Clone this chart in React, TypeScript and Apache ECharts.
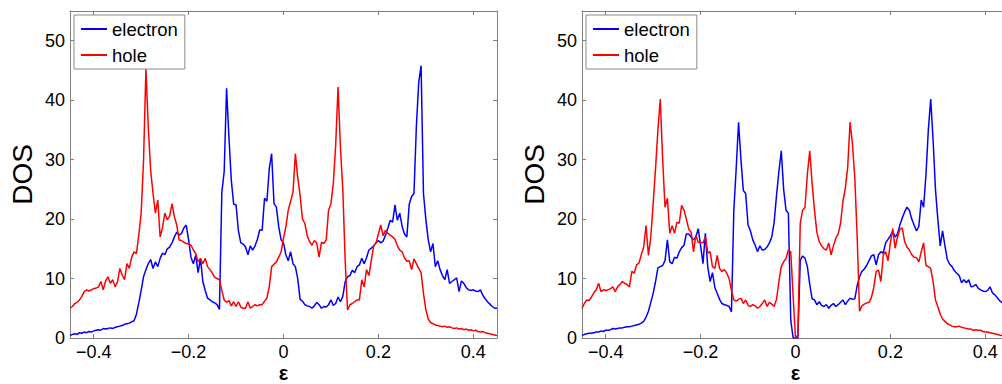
import React, { useEffect, useRef } from "react";
import * as echarts from "echarts";

// energy grid (step 0.005 from -0.45 to 0.45)
const EPS: number[] = Array.from({ length: 181 }, (_, i) => +(-0.45 + 0.005 * i).toFixed(3));

const X_TICKS = [-0.4, -0.2, 0, 0.2, 0.4];
const Y_TICKS = [0, 10, 20, 30, 40, 50];
const SERIES_NAMES = ["electron", "hole"];

// left panel
const ELEC_A = [
  0.4, 0.6, 0.7, 0.6, 0.9, 0.8, 1.0, 0.9, 1.1, 1.0,
  1.2, 1.3, 1.4, 1.3, 1.6, 1.5, 1.6, 1.7, 1.6, 1.8,
  1.9, 2.0, 2.1, 2.3, 2.4, 2.5, 2.7, 2.9, 4.0, 5.9,
  8.0, 10.3, 11.5, 12.5, 13.2, 11.7, 12.8, 12.0, 13.4, 14.3,
  14.0, 15.0, 15.3, 16.0, 17.0, 17.8, 17.3, 17.6, 18.5, 19.0,
  16.5, 13.6, 12.5, 13.9, 11.0, 13.4, 9.5, 8.0, 6.7, 6.4,
  6.1, 5.9, 5.6, 4.8, 24.5, 28.0, 42.0, 33.8, 26.5, 22.5,
  22.4, 18.0, 16.0, 15.8, 15.3, 14.0, 15.5, 14.8, 15.5, 16.6,
  18.2, 18.1, 23.5, 23.0, 28.5, 31.0, 22.6, 22.0, 18.7, 16.5,
  16.0, 14.0, 13.0, 14.5, 12.5, 12.0, 10.0, 6.5, 6.2, 5.6,
  5.4, 5.3, 5.0, 5.4, 6.0, 5.6, 5.0, 5.3, 5.2, 5.6,
  6.4, 5.5, 5.8, 6.9, 6.1, 7.0, 9.5, 10.3, 10.5, 11.4,
  11.0, 12.0, 12.3, 13.4, 12.5, 13.5, 14.8, 15.1, 15.5, 16.0,
  16.4, 16.0, 16.3, 17.3, 18.5, 19.8, 19.5, 22.4, 19.8, 21.0,
  18.8, 17.5, 17.0, 22.5, 23.8, 24.3, 35.5, 43.0, 45.8, 24.3,
  20.0, 16.6, 14.5, 15.9, 12.0, 13.0, 11.5, 10.5, 9.8, 11.5,
  9.2, 9.5, 9.8, 10.1, 7.8, 9.6, 9.2, 8.5, 8.1, 8.0,
  8.1, 7.9, 7.8, 8.1, 7.2, 6.6, 6.1, 5.7, 5.3, 5.0,
  5.0,
];

const HOLE_A = [
  5.0, 5.3, 5.8, 6.0, 6.4, 7.0, 7.8, 8.1, 7.9, 8.1,
  8.3, 8.4, 8.6, 9.5, 8.1, 9.6, 10.3, 9.2, 9.8, 8.6,
  9.4, 11.7, 10.6, 9.8, 12.5, 11.7, 13.6, 14.5, 14.2, 17.3,
  21.0, 29.9, 45.2, 35.5, 28.2, 24.3, 21.0, 23.2, 17.0, 18.6,
  21.0, 19.9, 20.5, 22.6, 20.4, 19.0, 16.5, 16.4, 16.1, 15.9,
  15.8, 15.6, 14.8, 14.2, 12.8, 13.4, 12.5, 13.4, 12.0, 11.5,
  10.9, 10.2, 10.0, 9.8, 8.0, 6.4, 6.0, 6.3, 5.4, 6.1,
  5.3, 6.1, 5.2, 5.0, 5.0, 6.1, 5.0, 5.3, 5.6, 5.4,
  5.6, 5.6, 6.2, 6.7, 8.6, 12.0, 12.4, 12.8, 13.6, 14.5,
  16.8, 18.7, 21.5, 23.0, 24.5, 31.0, 27.0, 24.0, 20.0, 19.3,
  17.2, 16.2, 15.6, 16.4, 16.0, 13.6, 16.1, 15.9, 16.5, 21.5,
  22.6, 26.0, 32.5, 42.2, 32.0, 25.0, 13.0, 4.7, 5.6, 5.8,
  6.1, 6.4, 6.4, 9.8, 8.6, 11.5, 10.5, 13.0, 15.5, 16.0,
  17.5, 19.0, 17.2, 18.1, 17.6, 17.3, 17.0, 16.6, 15.5, 14.8,
  14.5, 13.5, 12.9, 13.0, 11.5, 13.3, 12.5, 11.7, 11.0, 7.5,
  4.8, 3.2, 2.6, 2.4, 2.2, 2.1, 2.0, 1.9, 2.0, 1.8,
  1.9, 1.7, 1.6, 1.7, 1.5, 1.6, 1.4, 1.5, 1.3, 1.4,
  1.2, 1.3, 1.1, 1.0, 1.1, 0.9, 0.8, 0.7, 0.6, 0.5,
  0.4,
];

// right panel
const ELEC_B = [
  0.4, 0.6, 0.7, 0.8, 0.8, 0.9, 1.0, 1.0, 1.2, 1.1,
  1.3, 1.3, 1.4, 1.6, 1.5, 1.6, 1.7, 1.7, 1.8, 1.9,
  1.9, 2.0, 2.1, 2.2, 2.3, 2.5, 2.8, 3.5, 4.5, 6.0,
  7.5, 9.5, 11.8, 12.0, 12.2, 13.0, 16.5, 12.8, 12.5, 13.6,
  13.4, 14.5, 15.2, 15.6, 17.5, 17.5, 17.0, 16.5, 17.0, 18.4,
  15.5, 12.5, 17.6, 12.0, 9.5, 11.0, 8.5, 7.5, 6.5, 5.8,
  5.6, 5.5, 5.3, 4.4, 21.5, 28.5, 36.3, 30.0, 24.8, 24.3,
  19.0, 18.0, 16.5, 15.6, 14.5, 15.5, 14.8, 14.9, 15.3, 16.0,
  17.0, 19.5, 24.0, 28.0, 31.5, 25.0, 21.5, 21.0, 3.0, 0.0,
  0.0, 0.0, 13.0, 13.8, 13.4, 12.0, 9.0, 6.6, 6.4, 5.6,
  6.1, 5.5, 5.3, 5.6, 5.0, 5.5, 5.8, 5.3, 5.6, 6.0,
  6.4, 5.6, 6.2, 6.7, 6.5, 6.6, 8.8, 10.3, 11.2, 11.6,
  12.2, 13.0, 13.8, 14.0, 12.3, 14.0, 14.5, 14.3, 16.0, 16.6,
  17.2, 17.9, 17.0, 17.5, 19.0, 20.2, 21.2, 22.0, 21.5, 20.0,
  19.0, 18.0, 18.8, 23.2, 22.0, 27.5, 35.0, 40.2, 33.3, 25.0,
  20.0, 15.5, 18.0, 15.5, 13.2, 12.4, 12.0, 11.3, 10.9, 10.5,
  9.3, 9.8, 9.3, 9.8, 8.6, 8.7, 9.0, 8.4, 8.1, 7.9,
  7.8, 8.0, 8.6, 7.6, 7.3, 6.8, 6.3, 6.0, 5.7, 5.5,
  5.3,
];

const HOLE_B = [
  5.0, 5.8, 6.4, 6.3, 6.9, 7.6, 8.1, 9.2, 7.8, 8.1,
  8.0, 8.1, 8.3, 8.6, 7.8, 8.6, 9.0, 9.5, 9.2, 9.0,
  8.6, 11.2, 10.9, 12.3, 12.6, 14.0, 15.3, 18.9, 13.9, 17.0,
  22.6, 28.5, 35.0, 40.2, 30.0, 22.0, 23.5, 17.6, 18.9, 17.6,
  19.5, 19.3, 22.3, 21.5, 20.0, 18.3, 17.8, 14.5, 17.3, 16.1,
  16.1, 16.0, 17.0, 14.3, 14.5, 12.0, 11.7, 13.9, 11.7, 11.2,
  11.5, 10.9, 10.0, 8.0, 6.4, 6.2, 6.5, 6.7, 5.8, 6.4,
  5.5, 5.3, 5.6, 5.4, 5.0, 5.3, 5.8, 6.4, 5.3, 6.0,
  5.7, 5.3, 6.5, 9.5, 12.0, 12.8, 13.4, 14.8, 14.5, 7.0,
  0.0, 0.5, 19.3, 21.5, 22.0, 27.5, 31.5, 26.0, 21.5, 17.8,
  16.2, 15.5, 15.0, 14.8, 16.0, 14.0, 15.5, 16.8, 17.5, 19.3,
  23.0, 25.2, 28.7, 36.3, 32.7, 27.0, 17.0, 4.5, 5.4, 5.7,
  5.9, 6.0, 6.8, 8.5, 11.2, 11.4, 9.5, 14.0, 14.5, 13.0,
  16.0, 18.4, 15.1, 17.0, 18.3, 18.5, 16.2, 15.3, 14.8, 14.0,
  13.6, 13.5, 12.8, 14.5, 16.0, 12.2, 12.0, 11.7, 9.5, 6.4,
  5.3, 4.0, 3.2, 2.8, 2.4, 2.2, 2.0, 1.9, 1.9, 2.0,
  1.8, 1.7, 1.6, 1.5, 1.5, 1.3, 1.4, 1.3, 1.3, 1.1,
  1.0, 1.0, 0.9, 0.8, 0.7, 0.6, 0.5, 0.4, 0.4, 0.3,
  0.3,
];

const FONT = "'Liberation Sans', Arial, Helvetica, sans-serif";
const AXIS_GRAY = "#7f7f7f";

function fmtX(v: number): string {
  if (v === 0) return "0";
  return (v < 0 ? "\u2212" : "") + String(Math.abs(v));
}

function xAxes(g: number) {
  const common = {
    gridIndex: g,
    type: "value" as const,
    min: -0.45,
    max: 0.45,
    splitLine: { show: false },
    axisLine: { show: true, onZero: false, lineStyle: { color: AXIS_GRAY, width: 1 } },
    axisTick: { show: true, inside: true, length: 4, customValues: X_TICKS, lineStyle: { color: AXIS_GRAY } },
  };
  return [
    {
      ...common,
      position: "bottom" as const,
      axisLabel: { show: true, customValues: X_TICKS, formatter: fmtX, color: "#000", fontSize: 18, fontFamily: FONT, margin: 5 },
      name: "ε",
      nameLocation: "middle" as const,
      nameGap: 27,
      nameMoveOverlap: false,
      nameTextStyle: { fontSize: 20, fontWeight: "bold", lineHeight: 16, fontFamily: FONT, color: "#000" },
    },
    {
      ...common,
      position: "top" as const,
      axisLabel: { show: false, customValues: X_TICKS },
    },
  ];
}

function yAxes(g: number) {
  const common = {
    gridIndex: g,
    type: "value" as const,
    min: 0,
    max: 55,
    splitLine: { show: false },
    axisLine: { show: true, onZero: false, lineStyle: { color: AXIS_GRAY, width: 1 } },
    axisTick: { show: true, inside: true, length: 4, customValues: Y_TICKS, lineStyle: { color: AXIS_GRAY } },
  };
  return [
    {
      ...common,
      position: "left" as const,
      axisLabel: { show: true, customValues: Y_TICKS, color: "#000", fontSize: 18, fontFamily: FONT, margin: 5 },
      name: "DOS",
      nameLocation: "middle" as const,
      nameRotate: 90,
      nameGap: 34,
      nameMoveOverlap: false,
      nameTextStyle: { fontSize: 28, fontFamily: FONT, color: "#000" },
    },
    {
      ...common,
      position: "right" as const,
      axisLabel: { show: false, customValues: Y_TICKS },
    },
  ];
}

function lineSeries(name: string, color: string, values: number[], axisIndex: number) {
  return {
    name,
    type: "line" as const,
    xAxisIndex: axisIndex,
    yAxisIndex: axisIndex,
    data: EPS.map((e, i) => [e, values[i]]),
    symbol: "none",
    showSymbol: false,
    lineStyle: { color, width: 1.5 },
    itemStyle: { color },
    clip: true,
    z: name === "electron" ? 3 : 4,
  };
}

function legendAt(left: number) {
  return {
    left,
    top: 15,
    orient: "vertical" as const,
    data: SERIES_NAMES,
    selectedMode: false,
    backgroundColor: "#fff",
    borderColor: "#8a8a8a",
    borderWidth: 1,
    padding: [4, 7, 4, 6],
    itemWidth: 26,
    itemHeight: 2,
    itemGap: 6,
    textStyle: { color: "#000", fontSize: 18.5, fontFamily: FONT, lineHeight: 20 },
  };
}

export default function App() {
  const ref = useRef<HTMLDivElement>(null);

  useEffect(() => {
    if (!ref.current) return;
    const chart = echarts.init(ref.current, null, { renderer: "svg" });
    const option: any = {
      animation: false,
      backgroundColor: "#fff",
      grid: [
        { left: 70, top: 11, width: 427, height: 327, containLabel: false, outerBoundsMode: "none" },
        { left: 582, top: 11, width: 427, height: 327, containLabel: false, outerBoundsMode: "none" },
      ],
      xAxis: [...xAxes(0), ...xAxes(1)],
      yAxis: [...yAxes(0), ...yAxes(1)],
      legend: [legendAt(74), legendAt(586)],
      series: [
        lineSeries("electron", "#0000ff", ELEC_A, 0),
        lineSeries("hole", "#ff0000", HOLE_A, 0),
        lineSeries("electron", "#0000ff", ELEC_B, 2),
        lineSeries("hole", "#ff0000", HOLE_B, 2),
      ],
    };
    chart.setOption(option);
    return () => chart.dispose();
  }, []);

  return (
    <div
      ref={ref}
      style={{ position: "fixed", left: 0, top: 0, width: 1012, height: 384, background: "#fff" }}
    />
  );
}
